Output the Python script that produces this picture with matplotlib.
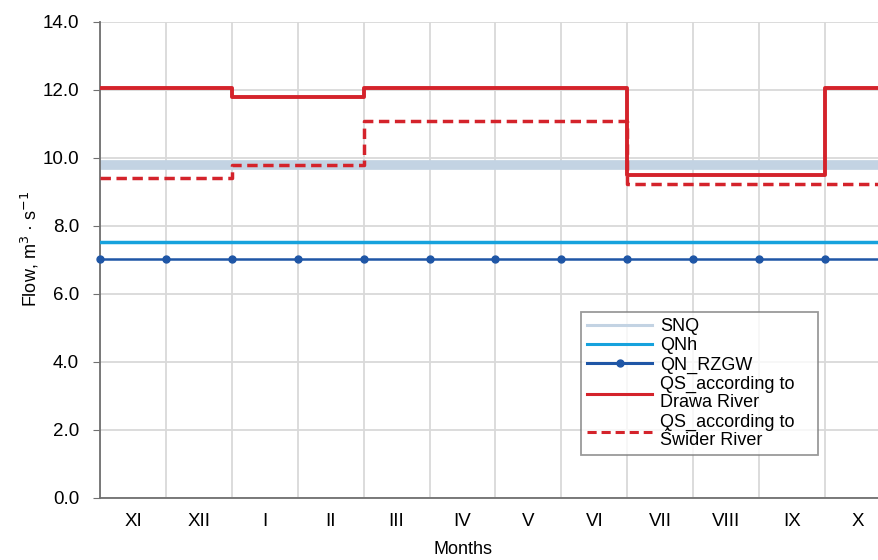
import numpy as np
import matplotlib.pyplot as plt

plt.rcParams['font.family'] = ['Liberation Sans', 'DejaVu Sans']

months = ["XI", "XII", "I", "II", "III", "IV", "V", "VI", "VII", "VIII", "IX", "X"]

snq = 9.8
qnh = 7.53
qn_rzgw = 7.03
qs_drawa = [12.05, 12.05, 11.8, 11.8, 12.05, 12.05, 12.05, 12.05, 9.5, 9.5, 9.5, 12.05]
qs_swider = [9.4, 9.4, 9.8, 9.8, 11.1, 11.1, 11.1, 11.1, 9.25, 9.25, 9.25, 9.25]

n = len(months)
edges = np.arange(n + 1)

fig = plt.figure(figsize=(8.79, 5.6), dpi=100)
ax = fig.add_axes([100 / 879, 62 / 560, 791 / 879, 476 / 560])

ax.plot(edges, [snq] * (n + 1), color="#c3d3e3", linewidth=7, label="SNQ", zorder=2)
ax.plot(edges, [qnh] * (n + 1), color="#16a2dd", linewidth=2.5, label="QNh", zorder=3)
ax.plot(edges, [qn_rzgw] * (n + 1), color="#1f56a6", linewidth=1.8, marker="o",
        markersize=5, label="QN_RZGW", zorder=3, clip_on=False)
ax.step(edges, qs_drawa + [qs_drawa[-1]], where="post", color="#d4232b",
        linewidth=2.8, label="QS_according to\nDrawa River", zorder=4)
ax.step(edges, qs_swider + [qs_swider[-1]], where="post", color="#d4232b",
        linewidth=2.5, linestyle=(0, (3, 1.6)), label="QS_according to\nŚwider River", zorder=4)

ax.set_xlim(0, n)
ax.set_ylim(0, 14)
ax.set_yticks(np.arange(0, 14.1, 2))
ax.set_yticklabels([f"{v:.1f}" for v in np.arange(0, 14.1, 2)])
ax.set_xticks(edges)
ax.set_xticklabels([])
ax.set_xticks(np.arange(n) + 0.5, minor=True)
ax.set_xticklabels(months, minor=True)
ax.tick_params(axis="x", which="both", length=0, pad=11, labelsize=13.5)
ax.tick_params(axis="y", length=5, color="#707070", labelsize=13.5, pad=10)
ax.grid(True, color="#d9d9d9", linewidth=1.3, zorder=0)
ax.set_axisbelow(True)

for s in ["top", "right"]:
    ax.spines[s].set_visible(False)
for s in ["left", "bottom"]:
    ax.spines[s].set_color("#707070")
    ax.spines[s].set_linewidth(1.3)

ax.set_ylabel("Flow, m$^3$ · s$^{-1}$", fontsize=13)
ax.yaxis.label.set_va("center")
ax.yaxis.set_label_coords(-(100 - 30) / 791, (498 - 249) / 476)
ax.set_xlabel("Months", fontsize=13)
ax.xaxis.set_label_coords((463 - 100) / 791, -(550 - 498) / 476)
ax.xaxis.label.set_va("center")

leg = ax.legend(loc="upper left",
                bbox_to_anchor=((581 - 100) / 791, (498 - 462) / 476,
                                (818 - 581) / 791, (462 - 312) / 476),
                mode="expand",
                fontsize=13, frameon=True, fancybox=False, edgecolor="#808080",
                handlelength=3.6, borderpad=0.35, labelspacing=0.12, handletextpad=0.45,
                borderaxespad=0)
leg.get_frame().set_linewidth(1.3)
for line in leg.get_lines():
    line.set_linewidth(2.2)
for t in leg.get_texts():
    t.set_linespacing(1.1)

fig.savefig("out.png", dpi=100)
